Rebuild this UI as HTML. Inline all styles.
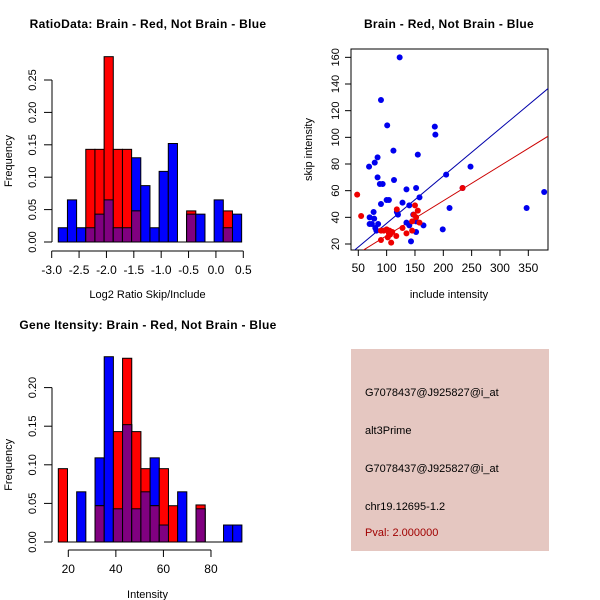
<!DOCTYPE html>
<html><head><meta charset="utf-8"><style>
html,body{margin:0;padding:0;background:#fff;}
svg{display:block;font-family:"Liberation Sans",sans-serif;}
</style></head><body>
<svg id="c" width="600" height="600" viewBox="0 0 600 600">
<rect x="351" y="349" width="198" height="202" fill="#e5c7c1"/>
<text x="365" y="396" font-size="11">G7078437@J925827@i_at</text>
<text x="365" y="434" font-size="11">alt3Prime</text>
<text x="365" y="472" font-size="11">G7078437@J925827@i_at</text>
<text x="365" y="510" font-size="11">chr19.12695-1.2</text>
<text x="365" y="536" font-size="11" fill="#a00000">Pval: 2.000000</text>
</svg>
<script>
// ---------- Data ----------
const ratioBinStart = -2.88, ratioBinWidth = 0.1675;
const ratioBlue = [0.022,0.065,0.022,0.022,0.043,0.065,0.022,0.022,0.130,0.087,0.022,0.109,0.152,0,0.043,0.043,0,0.065,0.022,0.043];
const ratioRed  = [0,0,0,0.143,0.143,0.286,0.143,0.143,0.048,0,0,0,0,0,0.048,0,0,0,0.048,0];
const ratioXTicks = [-3.0,-2.5,-2.0,-1.5,-1.0,-0.5,0.0,0.5];
const ratioYTicks = [0.00,0.05,0.10,0.15,0.20,0.25];

const intBinStart = 15.8, intBinWidth = 3.86;
const intBlue = [0,0,0.065,0,0.109,0.24,0.043,0.152,0.043,0.065,0.109,0.022,0,0.065,0,0.043,0,0,0.022,0.022];
const intRed  = [0.095,0,0,0,0.047,0,0.143,0.238,0.143,0.095,0.047,0.095,0.047,0,0,0.048,0,0,0,0];
const intXTicks = [20,40,60,80];
const intYTicks = [0.00,0.05,0.10,0.15,0.20];

const blueX = [123,90,101,185,186,112,155,69,79,84,248,205,84,113,88,93,100,104,135,152,234,158,90,128,140,211,347,378,118,120,77,70,78,147,70,74,85,80,82,135,152,140,165,199,152,143];
const blueY = [160,128,109,108,102,90,87,78,81,85,78,72,70,68,65,65,53,53,61,62,62,55,50,51,49,47,47,59,44,42,44,40,39,42,35,35,35,32,30,36,37,34,34,31,29,22];
const redX = [48,55,118,150,155,152,148,145,158,135,145,128,117,90,95,100,105,110,102,106,104,90,108,234];
const redY = [57,41,46,49,45,40,42,37,36,28,30,32,26,30,30,31,30,29,25,27,28,23,21,62];
const blueSlope = 0.355, redSlope = 0.262;
const scatXTicks = [50,100,150,200,250,300,350];
const scatYTicks = [20,40,60,80,100,120,140,160];

// ---------- Helpers ----------
const svg = document.getElementById('c');
const NS = 'http://www.w3.org/2000/svg';
function mk(tag, attrs){const e=document.createElementNS(NS,tag);for(const k in attrs)e.setAttribute(k,attrs[k]);svg.appendChild(e);return e;}
function txt(x,y,s,size,extra){const e=mk('text',Object.assign({x:x,y:y,'font-size':size},extra||{}));e.textContent=s;return e;}

function histogram(cfg){
  const {x0,x1,yScale,xScale,binStart,binWidth,blue,red,xTicks,yTicks,xAxisY,yAxisX,title,titleX,xlab,xlabY,prefix,xDec} = cfg;
  for(let i=0;i<blue.length;i++){
    const a=xScale(binStart+i*binWidth), b=xScale(binStart+(i+1)*binWidth);
    const bv=blue[i], rv=red[i], mv=Math.min(bv,rv);
    if(bv>0){const r=mk('rect',{x:a,y:yScale(bv),width:b-a,height:yScale(0)-yScale(bv),fill:'#0000ff',stroke:'#000','stroke-width':1});
      
      }
    if(rv>0){const r=mk('rect',{x:a,y:yScale(rv),width:b-a,height:yScale(0)-yScale(rv),fill:'#ff0000',stroke:'#000','stroke-width':1});
      
      }
    if(mv>0){const r=mk('rect',{x:a,y:yScale(mv),width:b-a,height:yScale(0)-yScale(mv),fill:'#800080',stroke:'#000','stroke-width':1});
      
      }
  }
  const base=mk('line',{x1:xScale(binStart),x2:xScale(binStart+blue.length*binWidth),y1:yScale(0),y2:yScale(0),stroke:'#000'});
  
  
  const xa=mk('line',{x1:xScale(xTicks[0]),x2:xScale(xTicks[xTicks.length-1]),y1:xAxisY,y2:xAxisY,stroke:'#000'});
  
  
  xTicks.forEach(t=>{const X=xScale(t);mk('line',{x1:X,x2:X,y1:xAxisY,y2:xAxisY+7,stroke:'#000'});
    const l=txt(X,xAxisY+23,t.toFixed(xDec),12,{'text-anchor':'middle'});
    
    });
  const ya=mk('line',{x1:yAxisX,x2:yAxisX,y1:yScale(yTicks[0]),y2:yScale(yTicks[yTicks.length-1]),stroke:'#000'});
  
  
  yTicks.forEach(t=>{const Y=yScale(t);mk('line',{x1:yAxisX-8,x2:yAxisX,y1:Y,y2:Y,stroke:'#000'});
    const l=txt(0,0,t.toFixed(2),11,{'text-anchor':'middle',transform:`translate(${yAxisX-16},${Y}) rotate(-90)`});
    
    });
  const tt=txt(titleX,cfg.titleY,title,12,{'font-weight':'bold','text-anchor':'middle','letter-spacing':'0.3'});
  
  
  const xl=txt((x0+x1)/2,xlabY,xlab,11,{'text-anchor':'middle'});
  
  
  const yl=txt(0,0,'Frequency',11,{'text-anchor':'middle',transform:`translate(12,${(yScale(0)+yScale(yTicks[yTicks.length-1]))/2}) rotate(-90)`});
  
  
}

histogram({x0:52,x1:243,prefix:'ratio',xDec:1,
  xScale:v=>51.7+(v+3)*54.74, yScale:v=>242-v*648,
  binStart:ratioBinStart,binWidth:ratioBinWidth,blue:ratioBlue,red:ratioRed,
  xTicks:ratioXTicks,yTicks:ratioYTicks,xAxisY:251,yAxisX:52,
  title:'RatioData: Brain - Red, Not Brain - Blue',titleX:148,titleY:28,
  xlab:'Log2 Ratio Skip/Include',xlabY:298});

histogram({x0:52,x1:243,prefix:'intensity',xDec:0,
  xScale:v=>68.3+(v-20)*2.378, yScale:v=>542-v*772,
  binStart:intBinStart,binWidth:intBinWidth,blue:intBlue,red:intRed,
  xTicks:intXTicks,yTicks:intYTicks,xAxisY:550,yAxisX:52,
  title:'Gene Itensity: Brain - Red, Not Brain - Blue',titleX:148,titleY:329,
  xlab:'Intensity',xlabY:598});

// Scatter
const sx=v=>358.3+(v-50)*0.5667, sy=v=>244-(v-20)*1.3333;
const bx0=351,bx1=548,by0=49,by1=250;
const box=mk('rect',{x:bx0,y:by0,width:bx1-bx0,height:by1-by0,fill:'none',stroke:'#000'});


const clip=mk('clipPath',{id:'sc'});clip.innerHTML=`<rect x="${bx0}" y="${by0}" width="${bx1-bx0}" height="${by1-by0}"/>`;
function fitLine(slope,color,name){
  const xMin=0, xMax=500;
  const l=mk('line',{x1:sx(xMin),y1:sy(slope*xMin),x2:sx(xMax),y2:sy(slope*xMax),stroke:color,'clip-path':'url(#sc)'});
  
  
}
fitLine(blueSlope,'#0000aa','blue-fit-line');
fitLine(redSlope,'#cc0000','red-fit-line');
blueX.forEach((v,i)=>{const c=mk('circle',{cx:sx(v),cy:sy(blueY[i]),r:3,fill:'#0000ee'});
  
  });
redX.forEach((v,i)=>{const c=mk('circle',{cx:sx(v),cy:sy(redY[i]),r:3,fill:'#ee0000'});
  
  });
scatXTicks.forEach(t=>{const X=sx(t);mk('line',{x1:X,x2:X,y1:by1,y2:by1+6,stroke:'#000'});
  const l=txt(X,by1+22,String(t),12,{'text-anchor':'middle'});
  
  });
scatYTicks.forEach(t=>{const Y=sy(t);mk('line',{x1:bx0-6,x2:bx0,y1:Y,y2:Y,stroke:'#000'});
  const l=txt(0,0,String(t),11,{'text-anchor':'middle',transform:`translate(${bx0-12},${Y}) rotate(-90)`});
  
  });
const st=txt(449,28,'Brain - Red, Not Brain - Blue',12,{'font-weight':'bold','text-anchor':'middle','letter-spacing':'0.3'});


const sxl=txt(449,298,'include intensity',11,{'text-anchor':'middle'});


const syl=txt(0,0,'skip intensity',11,{'text-anchor':'middle',transform:`translate(312,${(by0+by1)/2}) rotate(-90)`});


</script>
</body></html>
